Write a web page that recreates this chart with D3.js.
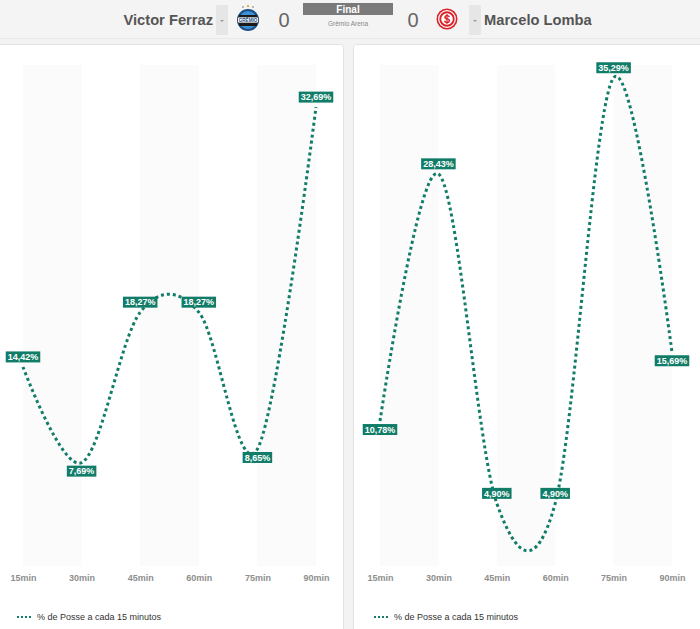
<!DOCTYPE html>
<html>
<head>
<meta charset="utf-8">
<script src="https://cdn.jsdelivr.net/npm/d3@7"></script>
<style>
  body { margin: 0; background: #f3f3f3; font-family: "Liberation Sans", Arial, sans-serif; }
  svg { display: block; }
</style>
</head>
<body>
<svg id="chart" width="700" height="629"></svg>
<script>
// data
const minutes = ["15min", "30min", "45min", "60min", "75min", "90min"];
const homeValues = [14.42, 7.69, 18.27, 18.27, 8.65, 32.69];
const awayValues = [10.78, 28.43, 4.90, 4.90, 35.29, 15.69];
const homePlayer = "Victor Ferraz";
const awayPlayer = "Marcelo Lomba";
const homeScore = 0, awayScore = 0;
const legendText = "% de Posse a cada 15 minutos";

const green = "#117d68";
const svg = d3.select("#chart");

// header bar
svg.append("rect").attr("x", 0).attr("y", 0).attr("width", 700).attr("height", 38).attr("fill", "#f4f4f4");
svg.append("line").attr("x1", 0).attr("x2", 700).attr("y1", 38.5).attr("y2", 38.5).attr("stroke", "#e8e8e8");

const header = svg.append("g");
header.append("text").attr("x", 213).attr("y", 25).attr("text-anchor", "end")
  .attr("font-size", 14.7).attr("font-weight", "bold").attr("fill", "#555").text(homePlayer);
header.append("text").attr("x", 484).attr("y", 25)
  .attr("font-size", 14.7).attr("font-weight", "bold").attr("fill", "#555").text(awayPlayer);

// dropdown stubs
[216, 469].forEach(x => {
  header.append("rect").attr("x", x).attr("y", 5).attr("width", 12).attr("height", 30).attr("fill", "#e6e6e6");
  header.append("path").attr("d", `M${x + 4},20 L${x + 8},20 L${x + 6},22 Z`).attr("fill", "#999");
});

// Gremio badge (simple)
const gr = header.append("g").attr("transform", "translate(248,20)");
gr.append("circle").attr("r", 11).attr("fill", "#1b4f86");
gr.append("circle").attr("r", 9).attr("fill", "#3d8fd6");
gr.append("path").attr("d", "M-9,-5 L9,-5 L9,-1 L-9,-1 Z").attr("fill", "#1a1a1a");
gr.append("path").attr("d", "M-9,3 L9,3 L9,6 L-9,6 Z").attr("fill", "#1a1a1a");
gr.append("rect").attr("x", -10.5).attr("y", -3).attr("width", 21).attr("height", 6).attr("rx", 1.5)
  .attr("fill", "#fff").attr("stroke", "#222").attr("stroke-width", 0.7);
gr.append("text").attr("y", 1.8).attr("text-anchor", "middle").attr("font-size", 4.6).attr("font-weight", "bold").attr("fill", "#1b4f86").text("GRÊMIO");
[-5, 0, 5].forEach(dx => gr.append("circle").attr("cx", dx).attr("cy", dx === 0 ? -14 : -13).attr("r", 1.1).attr("fill", dx === 0 ? "#c9a227" : "#aaa"));

// Internacional badge (simple)
const sc = header.append("g").attr("transform", "translate(447,19)");
sc.append("circle").attr("r", 10.5).attr("fill", "#d8232a");
sc.append("circle").attr("r", 8.3).attr("fill", "none").attr("stroke", "#fff").attr("stroke-width", 1.2);
sc.append("circle").attr("r", 5.8).attr("fill", "#fff");
sc.append("text").attr("y", 3.5).attr("text-anchor", "middle").attr("font-size", 10).attr("font-weight", "bold").attr("fill", "#d8232a").text("S");
sc.append("line").attr("x1", 0).attr("x2", 0).attr("y1", -5).attr("y2", 5).attr("stroke", "#d8232a").attr("stroke-width", 1.2);

// score
header.append("text").attr("x", 284).attr("y", 27).attr("text-anchor", "middle")
  .attr("font-size", 20).attr("fill", "#666").text(homeScore);
header.append("text").attr("x", 413).attr("y", 27).attr("text-anchor", "middle")
  .attr("font-size", 20).attr("fill", "#666").text(awayScore);
header.append("rect").attr("x", 303).attr("y", 3).attr("width", 90).attr("height", 12).attr("fill", "#7a7a7a");
header.append("text").attr("x", 348).attr("y", 12.5).attr("text-anchor", "middle")
  .attr("font-size", 10).attr("font-weight", "bold").attr("fill", "#fff").text("Final");
header.append("text").attr("x", 348).attr("y", 26).attr("text-anchor", "middle")
  .attr("font-size", 6.5).attr("fill", "#888").text("Grêmio Arena");

// one panel per goalkeeper
function drawPanel(opts) {
  const { values, boxX, boxW, x0, x1, yMax } = opts;
  const g = svg.append("g");

  g.append("rect").attr("x", boxX + 0.5).attr("y", 44.5).attr("width", boxW).attr("height", 640)
    .attr("rx", 3).attr("fill", "#fff").attr("stroke", "#e3e3e3");

  const x = d3.scalePoint().domain(minutes).range([x0, x1]);
  const y = d3.scaleLinear().domain([0, yMax]).range([572, 65]);

  // alternate plot bands
  for (let i = 0; i < minutes.length - 1; i += 2) {
    g.append("rect")
      .attr("x", x(minutes[i])).attr("width", x(minutes[i + 1]) - x(minutes[i]))
      .attr("y", y(yMax)).attr("height", y(0) - y(yMax) - 6)
      .attr("fill", "#fbfbfb");
  }

  // x axis labels
  const axis = d3.axisBottom(x).tickSize(0).tickPadding(0);
  const ax = g.append("g").attr("transform", "translate(0,575)").call(axis);
  ax.select(".domain").remove();
  ax.selectAll("text").attr("font-family", "Liberation Sans, Arial, sans-serif")
    .attr("font-size", 9).attr("font-weight", "bold").attr("fill", "#8e8e8e");

  const pts = values.map((v, i) => ({ v, i, name: minutes[i] }));
  const line = d3.line().x(d => x(d.name)).y(d => y(d.v)).curve(d3.curveCardinal.tension(0));
  g.append("path").datum(pts).attr("d", line)
    .attr("fill", "none").attr("stroke", green).attr("stroke-width", 3)
    .attr("stroke-dasharray", "3,3");

  // data labels: below the point when both neighbours are higher
  const lab = g.selectAll(".lab").data(pts).enter().append("g").attr("class", "lab");
  lab.each(function (d) {
    const prev = values[d.i - 1], next = values[d.i + 1];
    const below = (prev === undefined || prev > d.v) && (next === undefined || next > d.v);
    const cy = y(d.v) + (below ? 8.5 : -10);
    const sel = d3.select(this);
    const t = sel.append("text").attr("x", x(d.name)).attr("y", cy + 3.2).attr("text-anchor", "middle")
      .attr("font-size", 9).attr("font-weight", "bold").attr("fill", "#fff")
      .text(d.v.toFixed(2).replace(".", ",") + "%");
    const w = t.node().getComputedTextLength() + 4;
    sel.insert("rect", "text").attr("x", x(d.name) - w / 2).attr("y", cy - 5.5)
      .attr("width", w).attr("height", 11).attr("fill", green);
  });

  // legend
  const lx = x0 - 6;
  g.append("line").attr("x1", lx).attr("x2", lx + 15).attr("y1", 617).attr("y2", 617)
    .attr("stroke", green).attr("stroke-width", 2).attr("stroke-dasharray", "2,2");
  g.append("text").attr("x", lx + 20).attr("y", 620).attr("font-size", 9).attr("fill", "#333").text(legendText);
}

drawPanel({ values: homeValues, boxX: -10, boxW: 353, x0: 23, x1: 316, yMax: 35.65 });
drawPanel({ values: awayValues, boxX: 353, boxW: 360, x0: 380, x1: 672, yMax: 36.2 });
</script>
</body>
</html>
